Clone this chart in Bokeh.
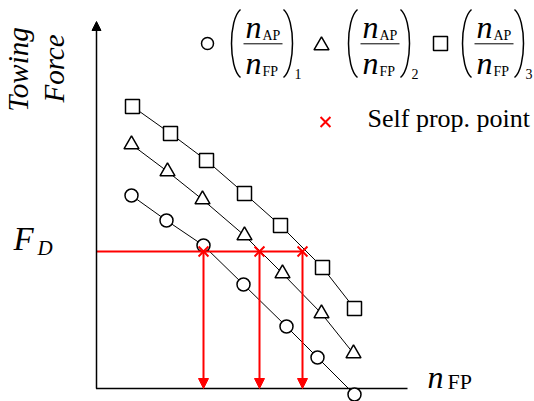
import math
from bokeh.plotting import figure
from bokeh.models import ColumnDataSource, Arrow, NormalHead, Range1d
from bokeh.core.properties import value
from bokeh.embed import file_html
from bokeh.resources import INLINE

# ---- data (schematic units: n_FP horizontally, towing force vertically) ----
nfp_1 = [3.5, 7.0, 10.7, 14.7, 19.0, 22.1, 25.8]
force_1 = [19.3, 16.8, 14.3, 10.4, 6.2, 3.1, -0.6]
nfp_2 = [3.5, 7.1, 10.6, 14.8, 18.6, 22.5, 25.7]
force_2 = [24.4, 21.7, 18.9, 15.3, 11.5, 7.5, 3.5]
nfp_3 = [3.6, 7.4, 11.0, 14.8, 18.4, 22.6, 25.8]
force_3 = [28.2, 25.5, 22.8, 19.5, 16.3, 12.1, 8.0]
self_prop_nfp = [10.7, 16.3, 20.6]
F_D = 13.7
series_markers = ["circle", "triangle", "square"]
series_sizes = [13, 15, 14]
series_subscripts = ["1", "2", "3"]
label_self = "Self prop. point"

FONT = value("Liberation Serif")
BASE_K = 0.034  # baseline correction (data units per px of font size)

p = figure(width=534, height=401, x_range=Range1d(-9.6, 43.8), y_range=Range1d(-1.3, 38.8),
           x_axis_type=None, y_axis_type=None, toolbar_location=None,
           output_backend="svg", min_border=0, outline_line_color=None)
p.background_fill_color = "white"
p.border_fill_color = "white"


def txt(x, y, s, size, style="normal", rotated=False, color="black"):
    if rotated:
        p.text(x=[x - BASE_K * size], y=[y], text=[s], text_font=FONT, text_font_size=f"{size}px",
               text_font_style=style, angle=math.pi / 2, text_align="center",
               text_baseline="alphabetic", text_color=color)
    else:
        p.text(x=[x], y=[y + BASE_K * size], text=[s], text_font=FONT, text_font_size=f"{size}px",
               text_font_style=style, text_align="left",
               text_baseline="alphabetic", text_color=color)


# ---- axes ----
p.line([-0.05, 31.1], [0, 0], line_color="black", line_width=1.5)
p.add_layout(Arrow(x_start=0, y_start=0, x_end=0, y_end=36.7, line_color="black", line_width=1.5,
                   end=NormalHead(size=9, fill_color="black", line_color="black")))

# ---- series ----
for xs, ys, m, s in zip([nfp_1, nfp_2, nfp_3], [force_1, force_2, force_3], series_markers, series_sizes):
    p.line(xs, ys, line_color="black", line_width=1)
    p.scatter(xs, ys, marker=m, size=s, fill_color="white", line_color="black", line_width=1.5)

# ---- self propulsion points ----
p.line([0, max(self_prop_nfp)], [F_D, F_D], line_color="red", line_width=2)
arr_src = ColumnDataSource(dict(x=self_prop_nfp, y0=[F_D] * len(self_prop_nfp), y1=[0] * len(self_prop_nfp)))
p.add_layout(Arrow(x_start="x", y_start="y0", x_end="x", y_end="y1", source=arr_src,
                   line_color="red", line_width=2,
                   end=NormalHead(size=10, fill_color="red", line_color="red")))
p.scatter(self_prop_nfp, [F_D] * len(self_prop_nfp), marker="x", size=14, line_color="red", line_width=2)

# ---- axis labels ----
txt(-6.9, 31.9, "Towing", 29, "italic", rotated=True)
txt(-3.3, 32.0, "Force", 29, "italic", rotated=True)
txt(-8.3, 13.8, "F", 33, "italic")
txt(-5.9, 13.3, "D", 21, "italic")
txt(33.1, 0.1, "n", 32, "italic")
txt(35.1, 0.0, "FP", 22)

# ---- legend ----
group_off = [0.0, 11.7, 23.1]
marker_x = [11.1, 22.5, 34.4]
marker_y = [34.5, 34.3, 34.5]
legend_sizes = [12, 15, 14]
for g in range(3):
    o = group_off[g]
    p.scatter([marker_x[g]], [marker_y[g]], marker=series_markers[g], size=legend_sizes[g],
              fill_color="white", line_color="black", line_width=1.5)
    # parentheses
    p.bezier(x0=[14.4 + o], y0=[37.9], x1=[14.4 + o], y1=[31.1],
             cx0=[13.2 + o], cy0=[36.9], cx1=[13.2 + o], cy1=[32.1],
             line_color="black", line_width=1.5)
    p.bezier(x0=[18.7 + o], y0=[37.9], x1=[18.7 + o], y1=[31.1],
             cx0=[19.9 + o], cy0=[36.9], cx1=[19.9 + o], cy1=[32.1],
             line_color="black", line_width=1.5)
    # fraction n_AP / n_FP
    txt(14.9 + o, 35.1, "n", 32, "italic")
    txt(16.6 + o, 34.8, "AP", 14)
    p.line([14.7 + o, 18.6 + o], [34.47, 34.47], line_color="black", line_width=1)
    txt(14.9 + o, 31.5, "n", 32, "italic")
    txt(16.6 + o, 31.25, "FP", 14)
    txt(19.8 + o, 31.0, series_subscripts[g], 14)

p.scatter([22.9], [26.65], marker="x", size=14, line_color="red", line_width=2)
txt(27.1, 26.1, label_self, 26)

open("out.html", "w").write(file_html(p, INLINE))
